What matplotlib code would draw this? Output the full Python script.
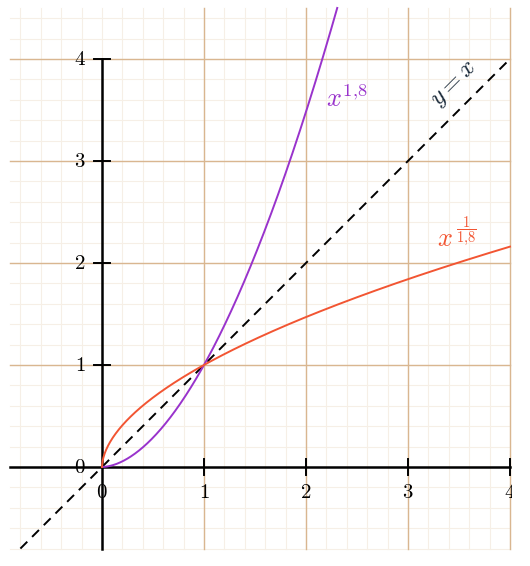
import numpy as np
import matplotlib
matplotlib.use('Agg')
import matplotlib.pyplot as plt

plt.rcParams['mathtext.fontset'] = 'cm'

# --- DATA ---
x_ticks = [1, 2, 3, 4]
y_ticks = [1, 2, 3, 4]
power = 1.8
y_max = 4.5
x_max = 4.0

PURPLE = '#9933CC'
ORANGE = '#F25532'
MAJOR = '#D9B690'
MINOR = '#F6EFE6'

fig = plt.figure(figsize=(5.3, 5.66), dpi=100)
# drawing is clipped just past x = 4 (px ~511), the rest of the canvas stays white
ax = fig.add_axes([0, 0, 512 / 530, 1])
ax.set_xlim(-1.0, 4.0 + 2 / 102)
ax.set_ylim(-0.971, 4.578)
ax.axis('off')

# --- GRID ---
minor = np.round(np.arange(-0.8, 4.41, 0.2), 2)
for v in minor:
    if v <= x_max:
        ax.plot([v, v], [-0.8, 4.5], color=MINOR, lw=0.8, zorder=1)
    ax.plot([-0.9, x_max], [v, v], color=MINOR, lw=0.8, zorder=1)
for v in x_ticks:
    ax.plot([v, v], [-0.8, 4.5], color=MAJOR, lw=1.0, zorder=2)
for v in y_ticks:
    ax.plot([-0.9, x_max], [v, v], color=MAJOR, lw=1.0, zorder=2)

# --- AXES ---
ax.plot([-0.9, x_max], [0, 0], color='black', lw=1.8, zorder=4)
ax.plot([0, 0], [-0.8, 4.0], color='black', lw=1.8, zorder=4)
for t in x_ticks:
    ax.plot([t, t], [-0.08, 0.08], color='black', lw=1.4, zorder=4)
    ax.text(t, -0.25, f'${t}$', ha='center', va='center', fontsize=15,
            zorder=5, clip_on=True)
for t in y_ticks:
    ax.plot([-0.08, 0.08], [t, t], color='black', lw=1.4, zorder=4)
    ax.text(-0.16, t, f'${t}$', ha='right', va='center', fontsize=15, zorder=5)
ax.text(0, -0.25, '$0$', ha='center', va='center', fontsize=15, zorder=5)
ax.text(-0.16, 0, '$0$', ha='right', va='center', fontsize=15, zorder=5)

# --- CURVES ---
xs = np.linspace(0, x_max, 600)
ax.plot([-0.8, x_max], [-0.8, x_max], color='black', lw=1.4,
        dashes=(5, 3.5), zorder=5)

xp = np.linspace(0, y_max ** (1 / power), 400)
ax.plot(xp, xp ** power, color=PURPLE, lw=1.4, zorder=6)
ax.plot(xs, xs ** (1 / power), color=ORANGE, lw=1.4, zorder=6)

ax.text(2.40, 3.60, '$x^{1{,}8}$', color=PURPLE, fontsize=19,
        ha='center', va='center', zorder=7)
# x^(1/1,8): base and raised fraction set apart so the fraction keeps its size
ax.text(3.36, 2.235, '$x$', color=ORANGE, fontsize=19,
        ha='center', va='center', zorder=7)
ax.text(3.575, 2.32, r'$\dfrac{1}{1{,}8}$', color=ORANGE, fontsize=10.5,
        ha='center', va='center', zorder=7)
ax.text(3.45, 3.76, '$y = x$', color='#1a2a3a', fontsize=18, rotation=45,
        ha='center', va='center', rotation_mode='anchor', zorder=7)

fig.savefig('out.png', dpi=100)
